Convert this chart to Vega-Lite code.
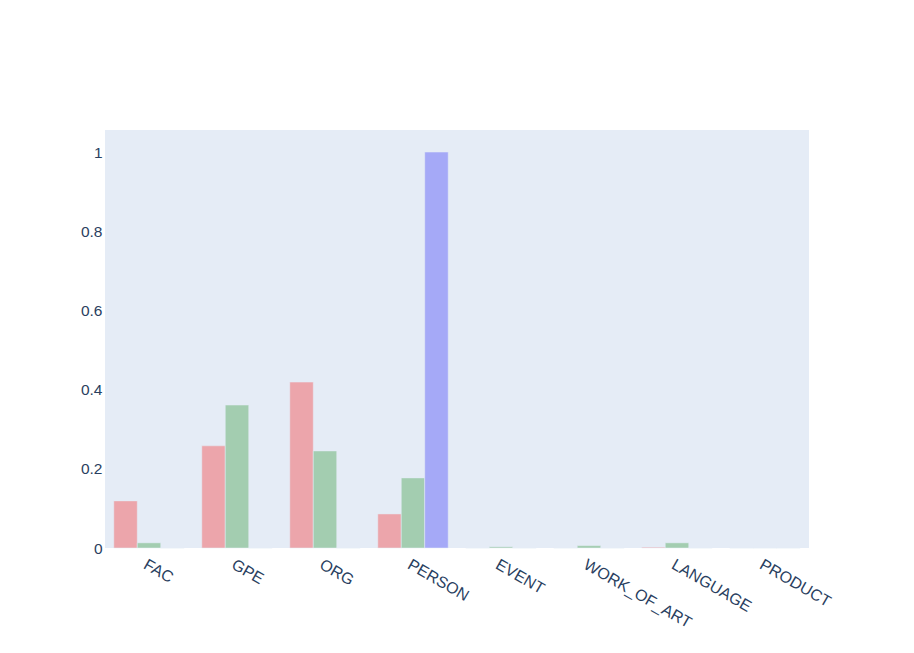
{
  "$schema": "https://vega.github.io/schema/vega-lite/v6.json",
  "width": 704,
  "height": 418,
  "autosize": {"type": "none"},
  "padding": {"left": 105, "top": 130, "right": 105, "bottom": 105},
  "background": "white",
  "config": {
    "view": {"fill": "#E5ECF6", "stroke": null},
    "font": "Liberation Sans"
  },
  "data": {
    "values": [
      {"entity": "FAC", "series": "a", "value": 0.119},
      {"entity": "FAC", "series": "b", "value": 0.013},
      {"entity": "FAC", "series": "c", "value": 0},
      {"entity": "GPE", "series": "a", "value": 0.258},
      {"entity": "GPE", "series": "b", "value": 0.361},
      {"entity": "GPE", "series": "c", "value": 0},
      {"entity": "ORG", "series": "a", "value": 0.419},
      {"entity": "ORG", "series": "b", "value": 0.245},
      {"entity": "ORG", "series": "c", "value": 0},
      {"entity": "PERSON", "series": "a", "value": 0.086},
      {"entity": "PERSON", "series": "b", "value": 0.177},
      {"entity": "PERSON", "series": "c", "value": 1.0},
      {"entity": "EVENT", "series": "a", "value": 0},
      {"entity": "EVENT", "series": "b", "value": 0.003},
      {"entity": "EVENT", "series": "c", "value": 0},
      {"entity": "WORK_OF_ART", "series": "a", "value": 0},
      {"entity": "WORK_OF_ART", "series": "b", "value": 0.006},
      {"entity": "WORK_OF_ART", "series": "c", "value": 0},
      {"entity": "LANGUAGE", "series": "a", "value": 0.002},
      {"entity": "LANGUAGE", "series": "b", "value": 0.013},
      {"entity": "LANGUAGE", "series": "c", "value": 0},
      {"entity": "PRODUCT", "series": "a", "value": 0},
      {"entity": "PRODUCT", "series": "b", "value": 0},
      {"entity": "PRODUCT", "series": "c", "value": 0}
    ]
  },
  "mark": {"type": "bar", "stroke": "#E5ECF6", "strokeWidth": 0.5},
  "encoding": {
    "x": {
      "field": "entity",
      "type": "nominal",
      "sort": null,
      "scale": {"paddingInner": 0.2, "paddingOuter": 0.1},
      "axis": {
        "title": null,
        "labelAngle": 30,
        "labelAlign": "left",
        "labelBaseline": "top",
        "labelPadding": 8,
        "labelFontSize": 16,
        "labelColor": "#2a3f5f",
        "ticks": false,
        "domain": false,
        "grid": false,
        "labelOffset": 0
      }
    },
    "xOffset": {"field": "series", "type": "nominal", "scale": {"paddingInner": 0, "paddingOuter": 0}},
    "y": {
      "field": "value",
      "type": "quantitative",
      "scale": {"domain": [0, 1.0556], "nice": false},
      "axis": {
        "title": null,
        "values": [0, 0.2, 0.4, 0.6, 0.8, 1],
        "format": "~g",
        "labelFontSize": 15.5,
        "labelColor": "#2a3f5f",
        "labelPadding": 3,
        "ticks": false,
        "domain": false,
        "grid": false
      }
    },
    "fill": {
      "field": "series",
      "type": "nominal",
      "scale": {"domain": ["a", "b", "c"], "range": ["#ECA5AB", "#A3CDB0", "#A5A9F7"]},
      "legend": null
    }
  }
}
